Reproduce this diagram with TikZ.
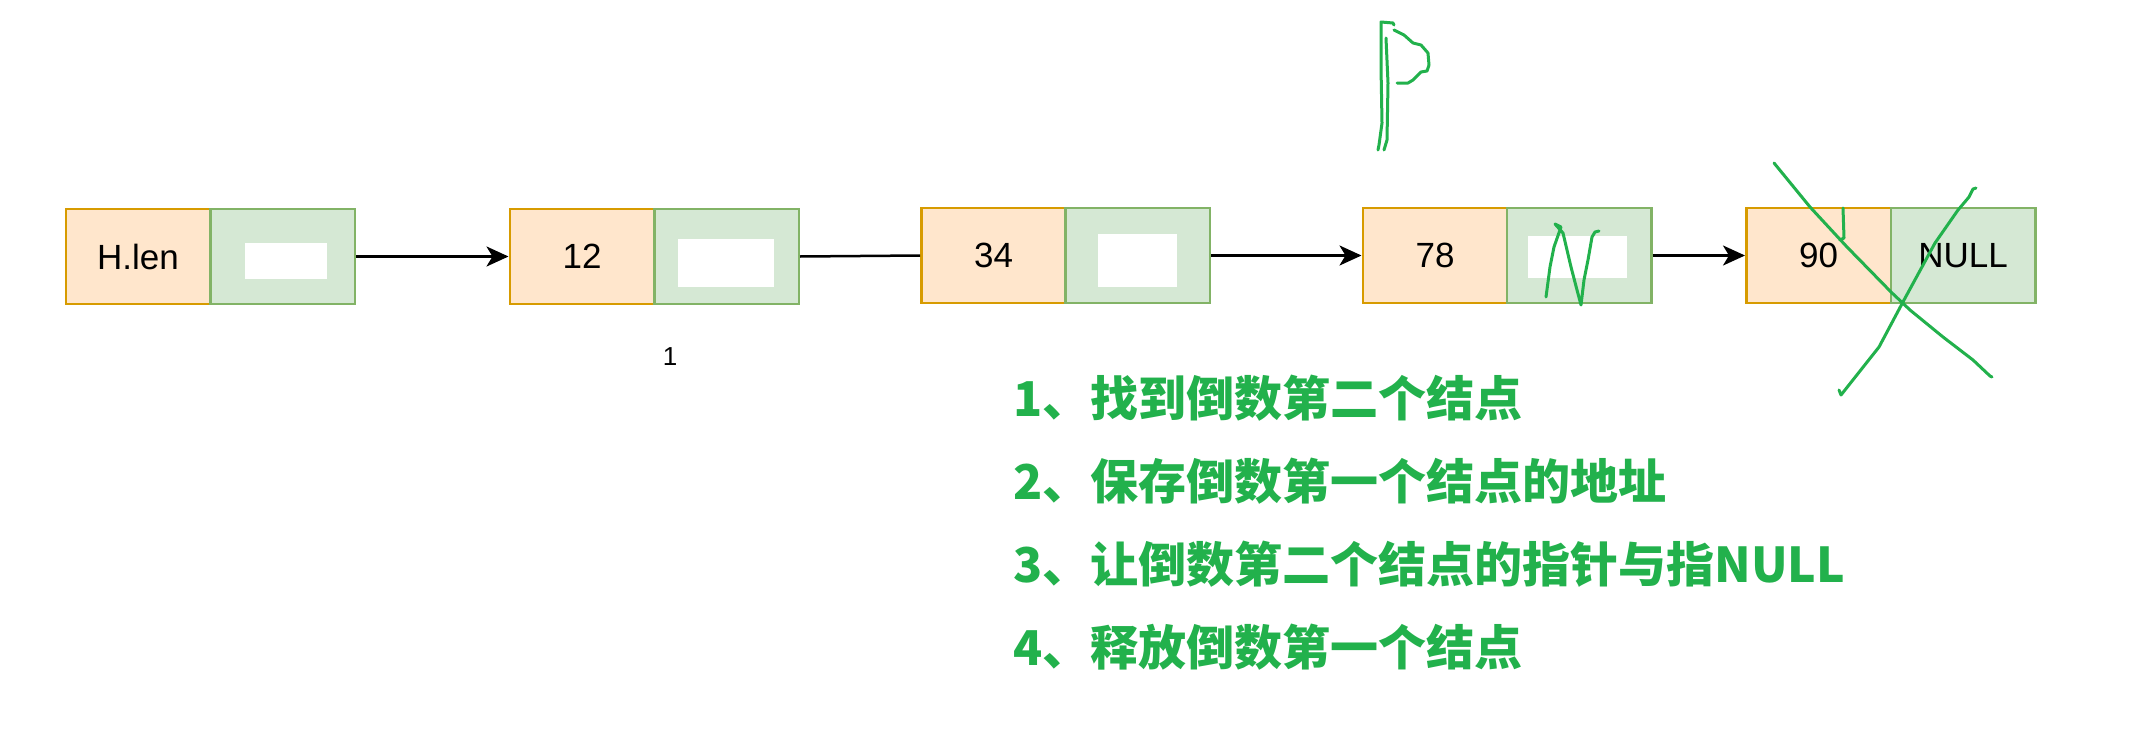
\documentclass[tikz,border=0pt]{standalone}
\usepackage{fontspec}
\setmainfont{Liberation Sans}
\newfontfamily\cjk{Noto Sans CJK SC}
\usetikzlibrary{arrows.meta}
\definecolor{fOr}{HTML}{FFE6CC}
\definecolor{dOr}{HTML}{D79B00}
\definecolor{fGr}{HTML}{D5E8D4}
\definecolor{dGr}{HTML}{82B366}
\definecolor{inkG}{HTML}{22B14C}
\tikzset{
  databox/.style={draw=dOr, fill=fOr, line width=2.5pt, minimum width=144.5pt, minimum height=95pt, inner sep=0pt, font=\fontsize{35}{40}\selectfont},
  ptrbox/.style={draw=dGr, fill=fGr, line width=2.5pt, minimum width=144.5pt, minimum height=95pt, inner sep=0pt, font=\fontsize{35}{40}\selectfont},
  hole/.style={fill=white, draw=none, inner sep=0pt},
  link/.style={line width=2.5pt, -{Stealth[length=22pt,width=20pt,inset=6pt]}},
  plainlink/.style={line width=2.5pt},
  ink/.style={draw=inkG, line width=3pt, line cap=round, line join=round},
  stepline/.style={text=inkG, inner sep=0pt, anchor=base west, font=\cjk\bfseries\fontsize{48}{56}\selectfont},
}
\begin{document}
\begin{tikzpicture}[x=1pt,y=-1pt]
\useasboundingbox (0,0) rectangle (2156,736);
\fill[white] (0,0) rectangle (2156,736);

% node H
\node[databox] (hd) at (138,256.5) {H.len};
\node[ptrbox] (hp) at (282.5,256.5) {};
\node[hole, minimum width=82pt, minimum height=36pt] (hh) at (286,261) {};
% node 12
\node[databox] (ad) at (582,256.5) {12};
\node[ptrbox] (ap) at (726.5,256.5) {};
\node[hole, minimum width=96pt, minimum height=48pt] (ah) at (726,263) {};
% node 34
\node[databox] (bd) at (993.5,255.5) {34};
\node[ptrbox] (bp) at (1137.5,255.5) {};
\node[hole, minimum width=79pt, minimum height=53pt] (bh) at (1137.5,260.5) {};
% node 78
\node[databox] (cd) at (1435,255.5) {78};
\node[ptrbox] (cp) at (1579,255.5) {};
\node[hole, minimum width=99pt, minimum height=42pt] (ch) at (1577.5,257) {};
% node 90
\node[databox] (dd) at (1818.5,255.5) {90};
\node[ptrbox] (dp) at (1963,255.5) {NULL};

% label
\node[inner sep=0pt, font=\fontsize{26}{30}\selectfont] (one) at (670,357) {1};

% connectors
\draw[link] (hp.east) -- (ad.west);
\draw[plainlink] (ap.east) -- (bd.west);
\draw[link] (bp.east) -- (cd.west);
\draw[link] (cp.east) -- (dd.west);

% steps
\node[stepline] (s1) at (1013,416) {1、找到倒数第二个结点};
\node[stepline] (s2) at (1013,499) {2、保存倒数第一个结点的地址};
\node[stepline] (s3) at (1013,582) {3、让倒数第二个结点的指针与指NULL};
\node[stepline] (s4) at (1013,665) {4、释放倒数第一个结点};

% green P flag
\draw[ink] (1394,25) -- (1393,23) -- (1381,22) -- (1381,67) -- (1382,123) -- (1379,145) -- (1378,150);
\draw[ink] (1386,38) -- (1388,83) -- (1387,140) -- (1384,150);
\draw[ink] (1394,30) -- (1404,35) -- (1413,43) -- (1421,45) -- (1428,53) -- (1429,65) -- (1427,71) -- (1421,72) -- (1413,80) -- (1408,83) -- (1397,83);

% N scribble in 78 pointer
\draw[ink] (1546,297) -- (1550,267) -- (1554,247) -- (1561,227) -- (1555,224) -- (1563,233) -- (1571,267) -- (1577,290) -- (1581,305) -- (1584,280) -- (1588,260) -- (1592,237) -- (1595,232) -- (1599,231);

% tick in 90
\draw[ink] (1843,208) -- (1844,238) -- (1840,240);

% big cross
\draw[ink] (1774,163) -- (1810,207) -- (1847,247) -- (1891,292) -- (1910,310) -- (1943,337) -- (1973,360) -- (1990,376) -- (1992,377);
\draw[ink] (1976,188) -- (1973,189) -- (1969,197) -- (1958,210) -- (1935,243) -- (1904,300) -- (1879,347) -- (1841,395) -- (1839,390);
\end{tikzpicture}
\end{document}
